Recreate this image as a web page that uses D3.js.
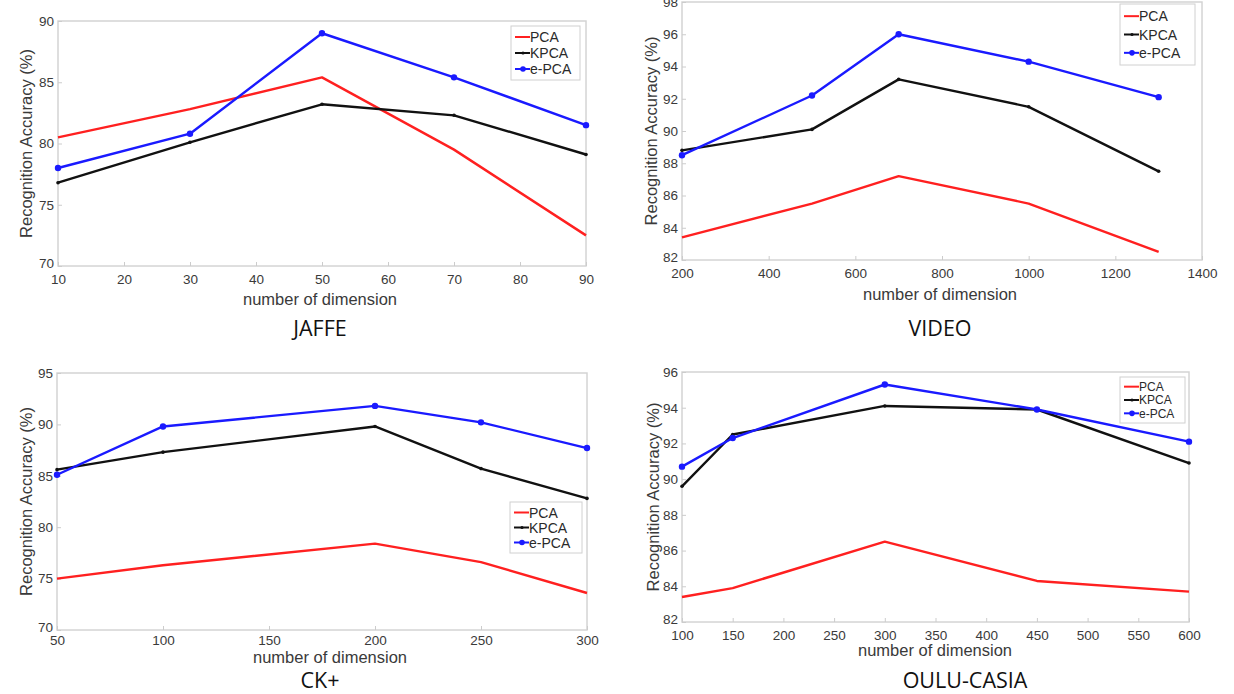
<!DOCTYPE html>
<meta charset="utf-8">
<head>
  <title>Recognition accuracy vs number of dimension</title>
  <style>
    body { margin: 0; background: #fff; }
    .tick text { font-family: "Liberation Sans", Arial, sans-serif; font-size: 13.5px; fill: #3a3a3a; }
    .lbl { font-family: "Liberation Sans", Arial, sans-serif; font-size: 16.5px; fill: #3a3a3a; }
    .ttl { font-family: "Open Sans", "Noto Sans", sans-serif; font-size: 21.5px; fill: #111; }
    .leg { font-family: "Liberation Sans", Arial, sans-serif; fill: #2a2a2a; }
  </style>
</head>

<script src="https://d3js.org/d3.v7.min.js"></script>

<div id="my_dataviz"></div>

<script>

// ---- data ----
var seriesNames = ["PCA", "KPCA", "e-PCA"];

var jaffeDims = [10, 30, 50, 70, 90];
var jaffePCA  = [80.5, 82.8, 85.4, 79.5, 72.5];
var jaffeKPCA = [76.8, 80.1, 83.2, 82.3, 79.1];
var jaffeEPCA = [78.0, 80.8, 89.0, 85.4, 81.5];
var jaffeXTicks = [10, 20, 30, 40, 50, 60, 70, 80, 90];
var jaffeYTicks = [70, 75, 80, 85, 90];

var videoDims = [200, 500, 700, 1000, 1300];
var videoPCA  = [83.4, 85.5, 87.2, 85.5, 82.5];
var videoKPCA = [88.8, 90.1, 93.2, 91.5, 87.5];
var videoEPCA = [88.5, 92.2, 96.0, 94.3, 92.1];
var videoXTicks = [200, 400, 600, 800, 1000, 1200, 1400];
var videoYTicks = [82, 84, 86, 88, 90, 92, 94, 96, 98];

var ckDims = [50, 100, 200, 250, 300];
var ckPCA  = [75.0, 76.3, 78.4, 76.6, 73.6];
var ckKPCA = [85.6, 87.3, 89.8, 85.7, 82.8];
var ckEPCA = [85.1, 89.8, 91.8, 90.2, 87.7];
var ckXTicks = [50, 100, 150, 200, 250, 300];
var ckYTicks = [70, 75, 80, 85, 90, 95];

var ouluDims = [100, 150, 300, 450, 600];
var ouluPCA  = [83.4, 83.9, 86.5, 84.3, 83.7];
var ouluKPCA = [89.6, 92.5, 94.1, 93.9, 90.9];
var ouluEPCA = [90.7, 92.3, 95.3, 93.9, 92.1];
var ouluXTicks = [100, 150, 200, 250, 300, 350, 400, 450, 500, 550, 600];
var ouluYTicks = [82, 84, 86, 88, 90, 92, 94, 96];

var colors = ["#ff2020", "#111111", "#1a1aff"];

var svg = d3.select("#my_dataviz")
  .append("svg")
    .attr("width", 1234)
    .attr("height", 694);

function drawPanel(p) {
  var x = d3.scaleLinear().domain(p.xDomain).range([p.left, p.right]);
  var y = d3.scaleLinear().domain(p.yDomain).range([p.bottom, p.top]);
  var g = svg.append("g");

  // frame
  g.append("rect")
    .attr("x", p.left).attr("y", p.top)
    .attr("width", p.right - p.left).attr("height", p.bottom - p.top)
    .attr("fill", "none").attr("stroke", "#d4d4d4").attr("stroke-width", 1.5);

  // X axis
  var xa = g.append("g")
    .attr("transform", "translate(0," + p.bottom + ")")
    .call(d3.axisBottom(x).tickValues(p.xTicks).tickFormat(d3.format("d"))
      .tickSize(-4).tickPadding(p.xPad));
  // Y axis
  var ya = g.append("g")
    .attr("transform", "translate(" + p.left + ",0)")
    .call(d3.axisLeft(y).tickValues(p.yTicks).tickSize(-4).tickPadding(4));
  [xa, ya].forEach(function(a) {
    a.select(".domain").remove();
    a.selectAll(".tick line").attr("stroke", "#ccc");
  });
  // lowest y label sits a bit higher, like the original
  ya.selectAll(".tick text").filter(function(d) { return d == p.yDomain[0]; })
    .attr("dy", "0.1em");

  // lines
  var series = [p.pca, p.kpca, p.epca];
  series.forEach(function(vals, i) {
    var pts = p.dims.map(function(d, j) { return [d, vals[j]]; });
    g.append("path")
      .datum(pts)
      .attr("fill", "none")
      .attr("stroke", colors[i])
      .attr("stroke-width", 2.4)
      .attr("stroke-linejoin", "round")
      .attr("d", d3.line()
        .x(function(d) { return x(d[0]); })
        .y(function(d) { return y(d[1]); }));
    if (i > 0) {
      g.selectAll(null)
        .data(pts)
        .enter().append("circle")
          .attr("cx", function(d) { return x(d[0]); })
          .attr("cy", function(d) { return y(d[1]); })
          .attr("r", i == 2 ? 3.2 : 1.8)
          .attr("fill", colors[i]);
    }
  });

  // legend
  var lg = g.append("g").attr("transform", "translate(" + p.leg[0] + "," + p.leg[1] + ")");
  lg.append("rect")
    .attr("width", p.leg[2]).attr("height", p.leg[3])
    .attr("fill", "#fff").attr("stroke", "#d0d0d0").attr("stroke-width", 1);
  var rowH = (p.leg[3] - 6) / 3;
  seriesNames.forEach(function(name, i) {
    var cy = 3 + rowH * (i + 0.5);
    lg.append("line")
      .attr("x1", 4).attr("x2", 19).attr("y1", cy).attr("y2", cy)
      .attr("stroke", colors[i]).attr("stroke-width", 2);
    if (i > 0) {
      lg.append("circle").attr("cx", 12).attr("cy", cy)
        .attr("r", i == 2 ? 2.8 : 1.6).attr("fill", colors[i]);
    }
    lg.append("text")
      .attr("class", "leg")
      .attr("x", 19).attr("y", cy)
      .attr("dy", "0.36em")
      .style("font-size", p.legFont + "px")
      .text(name);
  });

  // axis labels + title
  g.append("text")
    .attr("class", "lbl")
    .attr("x", p.xlab[0]).attr("y", p.xlab[1])
    .style("text-anchor", "middle")
    .text("number of dimension");
  g.append("text")
    .attr("class", "lbl")
    .attr("transform", "translate(" + p.ylabX + "," + ((p.top + p.bottom) / 2) + ") rotate(-90)")
    .style("text-anchor", "middle")
    .text("Recognition Accuracy (%)");
  g.append("text")
    .attr("class", "ttl")
    .attr("x", p.title[0]).attr("y", p.title[1])
    .style("text-anchor", "middle")
    .text(p.name);
}

drawPanel({name: "JAFFE", dims: jaffeDims, pca: jaffePCA, kpca: jaffeKPCA, epca: jaffeEPCA,
  xDomain: [10, 90], yDomain: [70, 90], xTicks: jaffeXTicks, yTicks: jaffeYTicks,
  left: 58, right: 586, top: 21, bottom: 266, legFont: 14, xPad: 8,
  leg: [511, 26, 69, 54], xlab: [320, 305], ylabX: 32, title: [320, 336]});

drawPanel({name: "VIDEO", dims: videoDims, pca: videoPCA, kpca: videoKPCA, epca: videoEPCA,
  xDomain: [200, 1400], yDomain: [82, 98], xTicks: videoXTicks, yTicks: videoYTicks,
  left: 682, right: 1202, top: 2, bottom: 260, legFont: 14, xPad: 8,
  leg: [1120, 4, 75, 61], xlab: [940, 300], ylabX: 657, title: [940, 336]});

drawPanel({name: "CK+", dims: ckDims, pca: ckPCA, kpca: ckKPCA, epca: ckEPCA,
  xDomain: [50, 300], yDomain: [70, 95], xTicks: ckXTicks, yTicks: ckYTicks,
  left: 57, right: 587, top: 373, bottom: 630, legFont: 14, xPad: 5,
  leg: [510, 502, 72, 51], xlab: [330, 663], ylabX: 32, title: [320, 688]});

drawPanel({name: "OULU-CASIA", dims: ouluDims, pca: ouluPCA, kpca: ouluKPCA, epca: ouluEPCA,
  xDomain: [100, 600], yDomain: [82, 96], xTicks: ouluXTicks, yTicks: ouluYTicks,
  left: 682, right: 1189, top: 372, bottom: 622, legFont: 12, xPad: 8,
  leg: [1120, 377, 65, 46], xlab: [935, 656], ylabX: 659, title: [965, 688]});

</script>
